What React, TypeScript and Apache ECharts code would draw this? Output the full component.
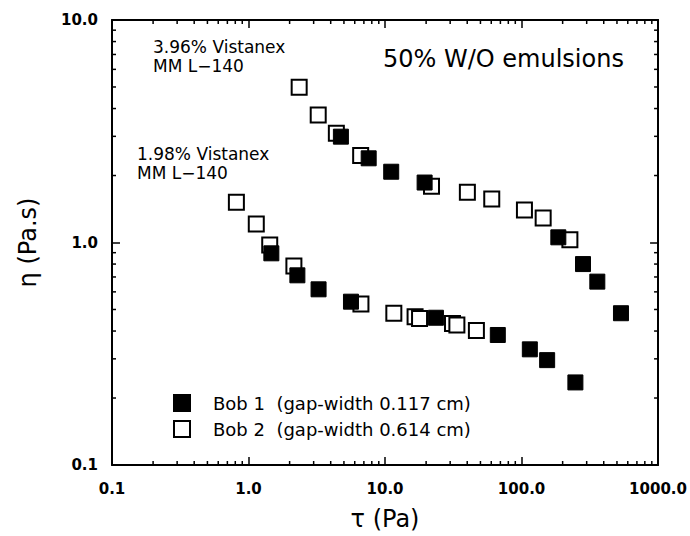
import React, { useEffect, useRef } from "react";
import * as echarts from "echarts";

// Bob 1 (filled squares): [tau (Pa), eta (Pa.s)]
const bob1Upper: [number, number][] = [
  [4.75, 2.99], [7.59, 2.39], [11.1, 2.08], [19.5, 1.86],
  [186, 1.055], [282, 0.8], [359, 0.667], [535, 0.481],
];
const bob1Lower: [number, number][] = [
  [1.47, 0.894], [2.28, 0.712], [3.26, 0.616], [5.63, 0.542],
  [23.6, 0.459], [67, 0.384], [115, 0.331], [154, 0.296], [248, 0.235],
];
// Bob 2 (open squares)
const bob2Upper: [number, number][] = [
  [2.35, 4.98], [3.24, 3.74], [4.4, 3.1], [6.63, 2.46], [21.9, 1.79],
  [40.1, 1.68], [60.5, 1.57], [105, 1.4], [144, 1.29], [226, 1.03],
];
const bob2Lower: [number, number][] = [
  [0.815, 1.516], [1.14, 1.21], [1.43, 0.975], [2.15, 0.784], [6.66, 0.529],
  [11.6, 0.481], [16.6, 0.464], [17.9, 0.456], [31.2, 0.433], [33.6, 0.426],
  [46.7, 0.402],
];

const seriesNames = [
  "Bob 1\u00a0\u00a0(gap-width 0.117 cm)",
  "Bob 2\u00a0\u00a0(gap-width 0.614 cm)",
];
const xRange = [0.1, 1000];
const yRange = [0.1, 10];
const minorMultipliers = [2, 3, 4, 5, 6, 7, 8, 9];
const xDecades = [0.1, 1, 10, 100];
const yDecades = [0.1, 1];

const xMinor = xDecades.flatMap((d) => minorMultipliers.map((m) => +(d * m).toPrecision(3)));
const yMinor = yDecades.flatMap((d) => minorMultipliers.map((m) => +(d * m).toPrecision(3)));

const FONT = "DejaVu Sans";

export default function App() {
  const ref = useRef<HTMLDivElement>(null);
  useEffect(() => {
    document.body.style.margin = "0";
    const chart = echarts.init(ref.current!, null, { renderer: "svg" });
    const tickStyle = { stroke: "#000", lineWidth: 1.5 };
    const axisCommon = {
      type: "log" as const,
      logBase: 10,
      axisLine: { show: true, lineStyle: { color: "#000", width: 2 } },
      axisTick: { show: true, inside: true, length: 8, lineStyle: { color: "#000", width: 1.5 } },
      splitLine: { show: false },
      minorTick: { show: false },
    };
    const labelStyle = {
      fontFamily: FONT,
      fontSize: 15,
      fontWeight: "bold",
      color: "#000",
      formatter: (v: number) => v.toFixed(1),
    };
    chart.setOption({
      animation: false,
      backgroundColor: "#fff",
      grid: { left: 112, right: 28, top: 20, bottom: 71 },
      xAxis: [
        {
          ...axisCommon,
          min: xRange[0],
          max: xRange[1],
          position: "bottom",
          name: "τ (Pa)",
          nameLocation: "middle",
          nameGap: 42,
          nameTextStyle: { fontFamily: FONT, fontSize: 24, color: "#000" },
          axisLabel: { ...labelStyle, margin: 16 },
        },
        {
          ...axisCommon,
          min: xRange[0],
          max: xRange[1],
          position: "top",
          axisLabel: { show: false },
        },
      ],
      yAxis: [
        {
          ...axisCommon,
          min: yRange[0],
          max: yRange[1],
          position: "left",
          name: "η (Pa.s)",
          nameLocation: "middle",
          nameRotate: 90,
          nameGap: 72,
          nameTextStyle: { fontFamily: FONT, fontSize: 24, color: "#000" },
          axisLabel: { ...labelStyle, margin: 14 },
        },
        {
          ...axisCommon,
          min: yRange[0],
          max: yRange[1],
          position: "right",
          axisLabel: { show: false },
        },
      ],
      legend: {
        data: seriesNames,
        orient: "vertical",
        left: 168,
        top: 389,
        itemWidth: 16,
        itemHeight: 16,
        itemGap: 8,
        textStyle: { fontFamily: FONT, fontSize: 18, color: "#000", padding: [0, 0, 0, 18] },
      },
      graphic: [
        { type: "text", left: 153, top: 38, style: { text: "3.96% Vistanex", font: `17px '${FONT}'`, fill: "#000" } },
        { type: "text", left: 153, top: 57, style: { text: "MM L−140", font: `17px '${FONT}'`, fill: "#000" } },
        { type: "text", left: 137, top: 145, style: { text: "1.98% Vistanex", font: `17px '${FONT}'`, fill: "#000" } },
        { type: "text", left: 137, top: 164, style: { text: "MM L−140", font: `17px '${FONT}'`, fill: "#000" } },
        { type: "text", left: 383, top: 47, style: { text: "50% W/O emulsions", font: `24px '${FONT}'`, fill: "#000" } },
      ],
      series: [
        {
          name: seriesNames[1],
          type: "scatter",
          symbol: "rect",
          symbolSize: 15,
          itemStyle: { color: "#fff", borderColor: "#000", borderWidth: 2, opacity: 1 },
          data: [...bob2Upper, ...bob2Lower],
          z: 3,
        },
        {
          name: seriesNames[0],
          type: "scatter",
          symbol: "rect",
          symbolSize: 15,
          itemStyle: { color: "#000", borderColor: "#000", borderWidth: 1, opacity: 1 },
          data: [...bob1Upper, ...bob1Lower],
          z: 4,
        },
        {
          name: "xMinorTicks",
          type: "custom",
          clip: false,
          silent: true,
          data: xMinor.map((v) => [v, 1]),
          renderItem: (_p: any, api: any) => {
            const v = api.value(0);
            const b = api.coord([v, yRange[0]]);
            const t = api.coord([v, yRange[1]]);
            return {
              type: "group",
              children: [
                { type: "line", shape: { x1: b[0], y1: b[1], x2: b[0], y2: b[1] - 4 }, style: tickStyle },
                { type: "line", shape: { x1: t[0], y1: t[1], x2: t[0], y2: t[1] + 4 }, style: tickStyle },
              ],
            };
          },
        },
        {
          name: "yMinorTicks",
          type: "custom",
          clip: false,
          silent: true,
          data: yMinor.map((v) => [1, v]),
          renderItem: (_p: any, api: any) => {
            const v = api.value(1);
            const l = api.coord([xRange[0], v]);
            const r = api.coord([xRange[1], v]);
            return {
              type: "group",
              children: [
                { type: "line", shape: { x1: l[0], y1: l[1], x2: l[0] + 4, y2: l[1] }, style: tickStyle },
                { type: "line", shape: { x1: r[0], y1: r[1], x2: r[0] - 4, y2: r[1] }, style: tickStyle },
              ],
            };
          },
        },
      ],
    });
    return () => chart.dispose();
  }, []);
  return <div ref={ref} style={{ width: 690, height: 536 }} />;
}
